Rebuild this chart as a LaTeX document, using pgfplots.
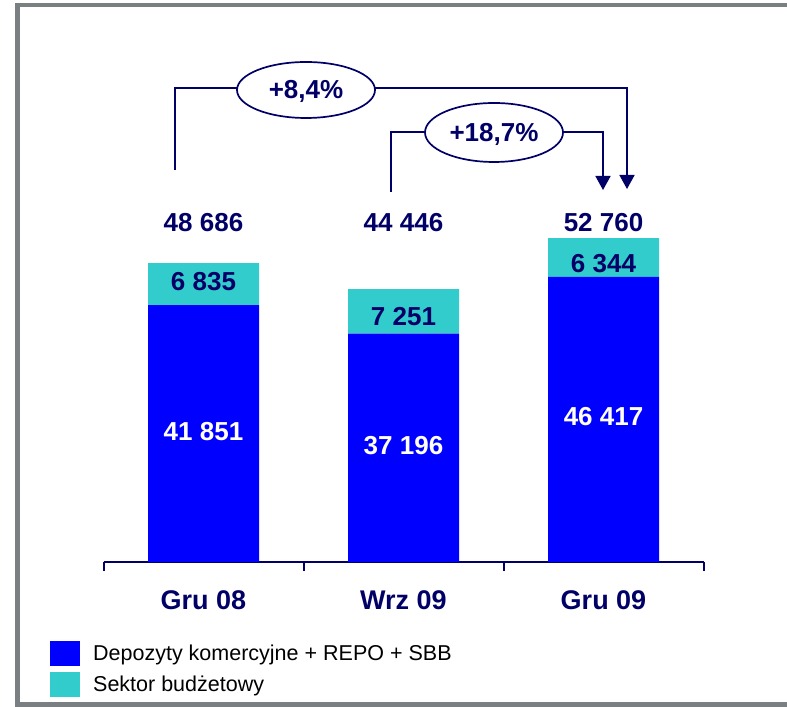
\documentclass[border=0pt]{standalone}
\usepackage{pgfplots}
\pgfplotsset{compat=1.18}
\usepackage{fontspec}
\setmainfont{Liberation Sans}
\usetikzlibrary{arrows.meta}

\definecolor{navy}{RGB}{0,0,102}
\definecolor{barblue}{RGB}{0,0,255}
\definecolor{barcyan}{RGB}{51,204,204}
\definecolor{framegray}{RGB}{122,127,130}

\newcommand{\lab}{\fontsize{26bp}{30bp}\selectfont\bfseries}

\pgfplotsset{
  samebox/.style={
    at={(103.5bp,145bp)}, anchor=south west,
    scale only axis, width=600bp, height=368.4bp,
    xmin=-0.5, xmax=2.5, ymin=0, ymax=60000,
    clip=false,
  },
}

\begin{document}
\begin{tikzpicture}[x=1bp,y=1bp]
\useasboundingbox (0,0) rectangle (787,707);

\begin{axis}[
    samebox,
    ybar stacked, bar width=111bp,
    axis y line=none, axis x line=bottom,
    axis line style={navy, line width=2bp, -},
    xtick={0,1,2}, xticklabels={Gru 08, Wrz 09, Gru 09},
    major tick length=0pt,
    extra x ticks={-0.5,0.5,1.5,2.5}, extra x tick labels={},
    extra x tick style={major tick length=9bp, tick style={navy, line width=2bp}},
    tick align=outside,
    xticklabel style={font=\fontsize{27bp}{31bp}\selectfont\bfseries, text=navy, yshift=-25bp},
    legend style={at={(-0.0892,-0.2144)}, anchor=north west, draw=none, fill=none,
        inner sep=0pt, row sep=6bp, font=\fontsize{21.5bp}{24bp}\selectfont,
        /tikz/every odd column/.append style={column sep=11bp}},
    legend cell align=left,
]
\addplot[fill=barblue, draw=none,
    legend image code/.code={\fill[barblue] (0bp,-12.5bp) rectangle (30bp,12.5bp);}]
    coordinates {(0,41851) (1,37196) (2,46417)};
\addlegendentry{Depozyty komercyjne + REPO + SBB}
\addplot[fill=barcyan, draw=none,
    legend image code/.code={\fill[barcyan] (0bp,-12.5bp) rectangle (30bp,12.5bp);}]
    coordinates {(0,6835) (1,7251) (2,6344)};
\addlegendentry{Sektor budżetowy}
\end{axis}

% value labels, same box, not stacked
\begin{axis}[samebox, hide axis,
    every node near coord/.append style={font=\lab, anchor=center}]
\addplot[draw=none, mark=none, nodes near coords, point meta=explicit symbolic,
    every node near coord/.append style={text=white}]
    coordinates {(0,21170)[41 851] (1,18890)[37 196] (2,23610)[46 417]};
\addplot[draw=none, mark=none, nodes near coords, point meta=explicit symbolic,
    every node near coord/.append style={text=navy}]
    coordinates {(0,45600)[6 835] (1,39900)[7 251] (2,48530)[6 344]};
\addplot[draw=none, mark=none, nodes near coords, point meta=explicit symbolic,
    every node near coord/.append style={text=navy}]
    coordinates {(0,55300)[48 686] (1,55300)[44 446] (2,55300)[52 760]};
\end{axis}

% frame and growth brackets (pixel positions, y downwards)
\begin{scope}[shift={(0,707)}, y=-1bp]
\draw[framegray, line width=4.6bp] (787,5) -- (17.5,5) -- (17.5,704.5) -- (787,704.5);
\begin{scope}[navy, line width=1.7bp]
\draw (175,170) -- (175,88) -- (237,88);
\draw[-{Triangle[length=14bp,width=15bp]}] (375,88) -- (627,88) -- (627,189);
\draw (306,90) ellipse [x radius=69, y radius=28];
\node[font=\lab] at (306,91) {+8,4\%};
\draw (391,192) -- (391,132) -- (425,132);
\draw[-{Triangle[length=14bp,width=15bp]}] (563,132) -- (603,132) -- (603,190);
\draw (494,132.5) ellipse [x radius=69, y radius=29.5];
\node[font=\lab] at (494,134) {+18,7\%};
\end{scope}
\end{scope}
\end{tikzpicture}
\end{document}
